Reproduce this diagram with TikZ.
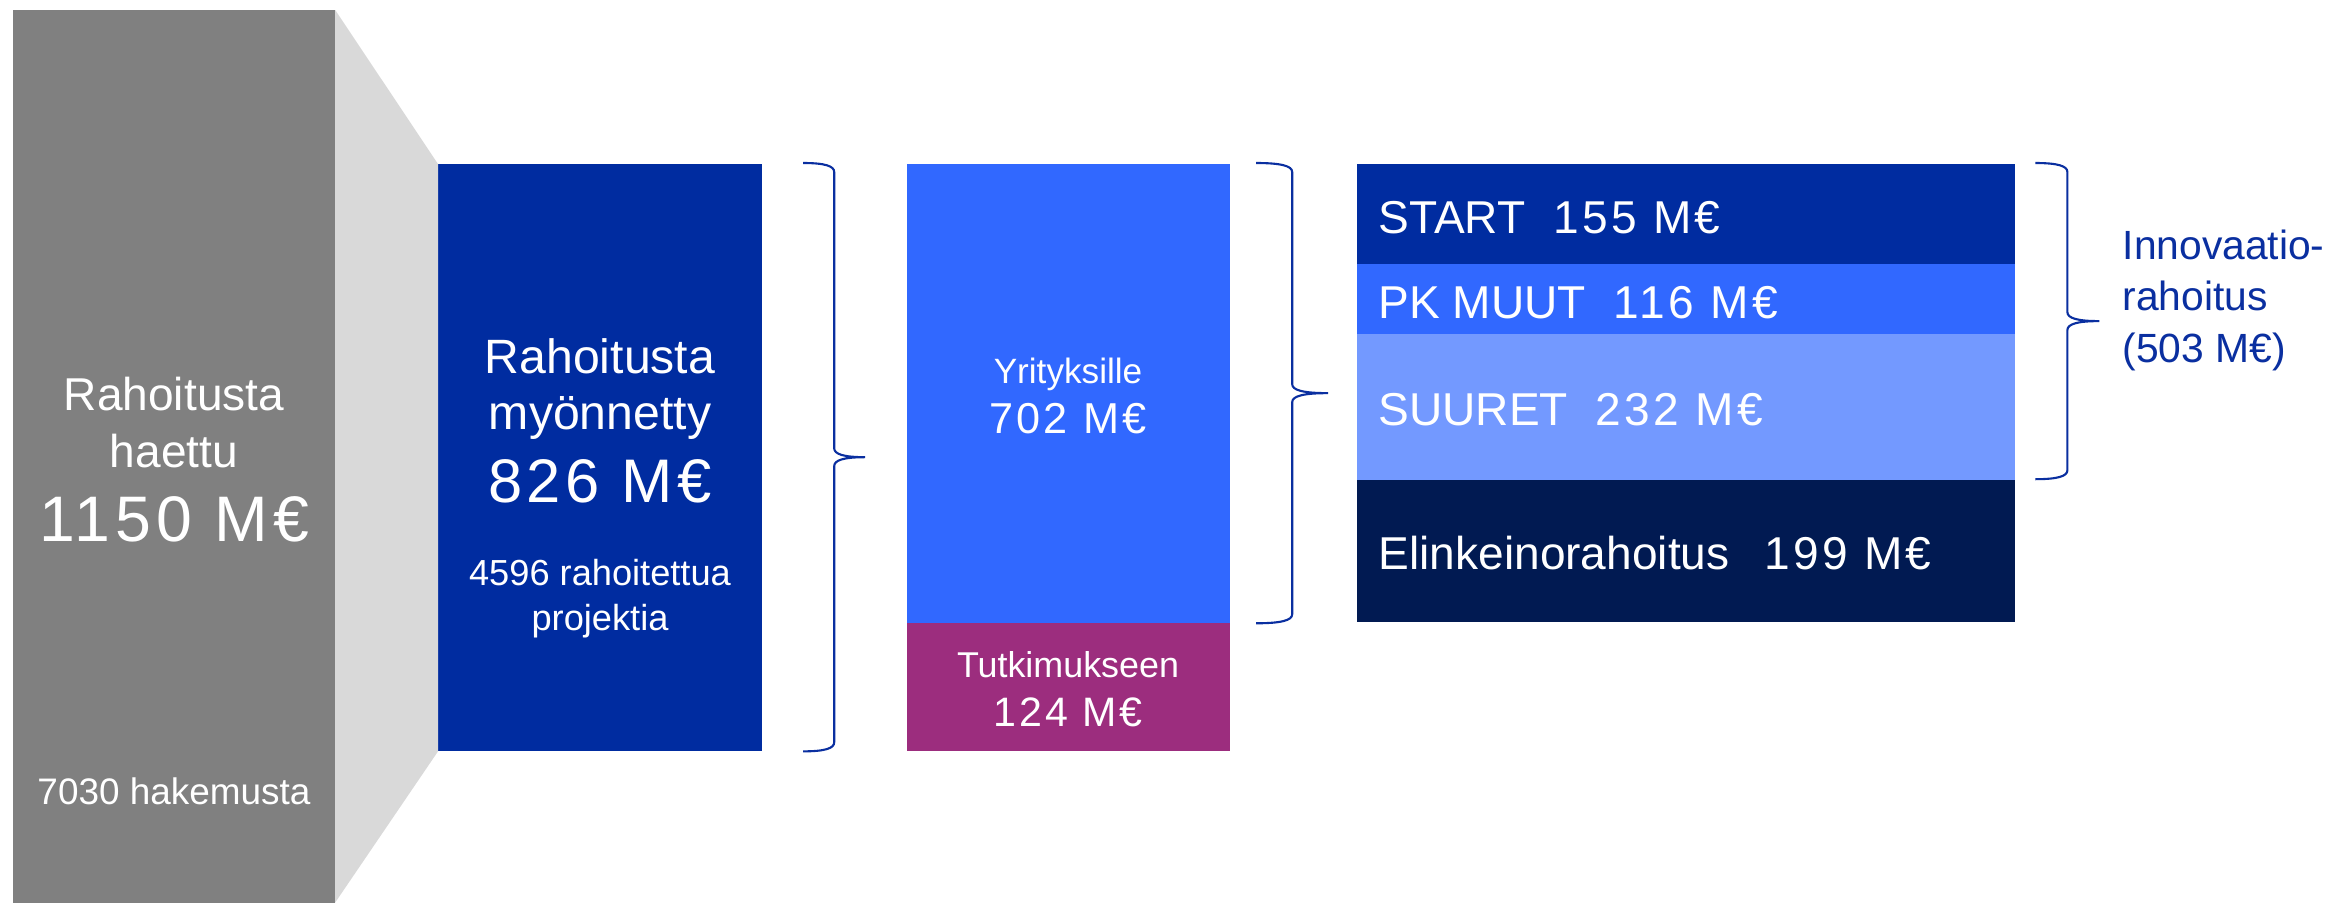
\documentclass[tikz,border=0pt]{standalone}
\usepackage{fontspec}
\setmainfont{Liberation Sans}
\usetikzlibrary{calc}
\definecolor{haettugray}{HTML}{808080}
\definecolor{funnelgray}{HTML}{D9D9D9}
\definecolor{tfblue}{HTML}{002CA0}
\definecolor{midblue}{HTML}{3168FF}
\definecolor{lightblue}{HTML}{7399FF}
\definecolor{navyblue}{HTML}{011A52}
\definecolor{plum}{HTML}{9C2D7E}
\definecolor{braceblue}{HTML}{0A2FA0}
\newcommand{\sz}[1]{\fontsize{#1pt}{#1pt}\selectfont}
\newcommand{\amt}[1]{{\addfontfeature{LetterSpace=7.5}#1}}
% vertical curly brace: top, bottom, half depth
\newcommand{\vbrace}[3]{%
  \draw[bracepen] (#1) .. controls +(0.7*#3,0) and +(0,-6) .. ($(#1)+(#3,9)$)
    -- ($(#1)!0.5!(#2)+(#3,-9)$) .. controls +(0,6) and +(-0.7*#3,0) .. ($(#1)!0.5!(#2)+(2*#3,0)$)
    .. controls +(-0.7*#3,0) and +(0,-6) .. ($(#1)!0.5!(#2)+(#3,9)$)
    -- ($(#2)+(#3,-9)$) .. controls +(0,6) and +(0.7*#3,0) .. (#2);}

\begin{document}
\begin{tikzpicture}[x=0.01cm, y=-0.01cm,
    box/.style = {rectangle, draw=none, inner sep=0pt, outer sep=0pt, anchor=north west},
    lbl/.style = {text=white, anchor=base, inner sep=0pt},
    lblw/.style = {lbl, anchor=base west, font=\sz{13.1}},
    bracepen/.style = {draw=braceblue, line width=0.6pt}]
      \useasboundingbox (0,0) rectangle (2336,902);
      \fill[white] (0,0) rectangle (2336,902);

      % boxes
      \node[box, fill=haettugray, minimum width=3.22cm, minimum height=8.92cm] (haettu) at (13,10) {};
      \node[box, fill=tfblue, minimum width=3.24cm, minimum height=5.87cm] (myonnetty) at (438,164) {};
      \node[box, fill=midblue, minimum width=3.23cm, minimum height=4.59cm] (yritys) at (907,164) {};
      \node[box, fill=plum, minimum width=3.23cm, minimum height=1.28cm] (tutkimus) at (yritys.south west) {};
      \node[box, fill=tfblue, minimum width=6.58cm, minimum height=1.00cm] (start) at (1357,164) {};
      \node[box, fill=midblue, minimum width=6.58cm, minimum height=0.70cm] (pkmuut) at (start.south west) {};
      \node[box, fill=lightblue, minimum width=6.58cm, minimum height=1.46cm] (suuret) at (pkmuut.south west) {};
      \node[box, fill=navyblue, minimum width=6.58cm, minimum height=1.42cm] (elinkeino) at (suuret.south west) {};

      \fill[funnelgray] (haettu.north east) -- (myonnetty.north west)
        -- (myonnetty.south west) -- (haettu.south east) -- cycle;

      % braces
      \coordinate (b1t) at ($(myonnetty.north east)+(41,-1)$);
      \coordinate (b1b) at ($(myonnetty.south east)+(41,0)$);
      \coordinate (b2t) at ($(yritys.north east)+(26,-1)$);
      \coordinate (b2b) at ($(yritys.south east)+(26,0)$);
      \coordinate (b3t) at ($(start.north east)+(20,-1)$);
      \coordinate (b3b) at ($(suuret.south east)+(20,-1)$);
      \vbrace{b1t}{b1b}{31}
      \vbrace{b2t}{b2b}{36}
      \vbrace{b3t}{b3b}{32}

      % texts
      \node[lbl, font=\sz{13.1}] (haettuA) at (174,410) {Rahoitusta};
      \node[lbl, font=\sz{13.1}] (haettuB) at (174,467) {haettu};
      \node[lbl, font=\sz{18.3}] (haettuC) at (174,541) {\amt{1150 M€}};
      \node[lbl, font=\sz{10.5}] (hakemus) at (174,804) {7030 hakemusta};

      \node[lbl, font=\sz{13.7}] (myonA) at (600,373) {Rahoitusta};
      \node[lbl, font=\sz{13.7}] (myonB) at (600,429) {myönnetty};
      \node[lbl, font=\sz{17.5}] (myonC) at (600,502) {\amt{826 M€}};
      \node[lbl, font=\sz{10.3}] (projA) at (600,585) {4596 rahoitettua};
      \node[lbl, font=\sz{10.3}] (projB) at (600,630) {projektia};

      \node[lbl, font=\sz{10}] (yritysA) at (1068,383) {Yrityksille};
      \node[lbl, font=\sz{12.3}] (yritysB) at (1068,433) {\amt{702 M€}};
      \node[lbl, font=\sz{10.2}] (tutkA) at (1068,677) {Tutkimukseen};
      \node[lbl, font=\sz{11.7}] (tutkB) at (1068,726) {\amt{124 M€}};

      \node[lblw] (startT) at (1378,233) {START\hspace{0.6em}\amt{155 M€}};
      \node[lblw] (pkmuutT) at (1378,318) {PK MUUT\hspace{0.6em}\amt{116 M€}};
      \node[lblw] (suuretT) at (1378,425) {SUURET\hspace{0.6em}\amt{232 M€}};
      \node[lblw] (elinkT) at (1378,569) {Elinkeinorahoitus\hspace{0.75em}\amt{199 M€}};

      \node[lblw, text=braceblue, font=\sz{11.6}] (innoA) at (2122,259) {Innovaatio-};
      \node[lblw, text=braceblue, font=\sz{11.6}] (innoB) at (2122,310) {rahoitus};
      \node[lblw, text=braceblue, font=\sz{11.6}] (innoC) at (2122,362) {(503 M€)};
    \end{tikzpicture}
\end{document}
